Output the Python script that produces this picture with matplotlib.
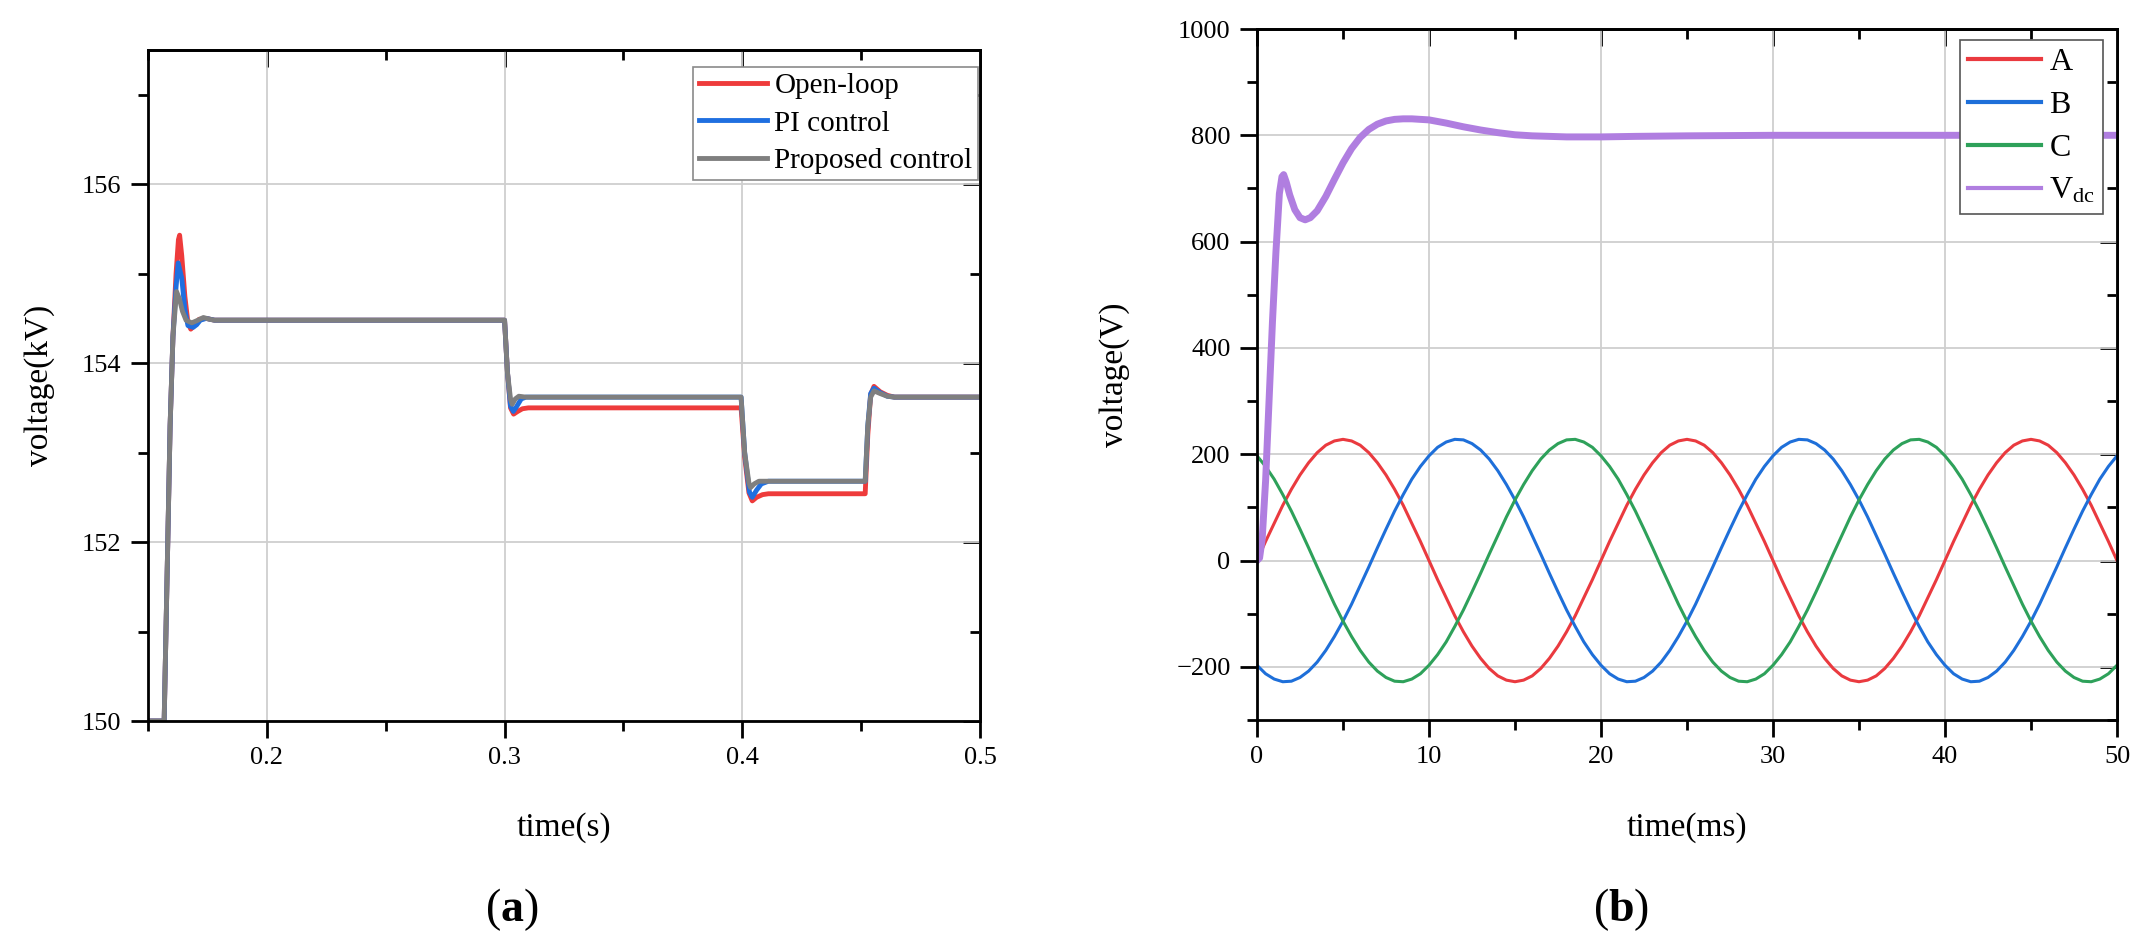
import matplotlib
matplotlib.use('Agg')
import matplotlib.pyplot as plt
from matplotlib.ticker import MultipleLocator

plt.rcParams['font.family'] = 'Liberation Serif'
plt.rcParams['mathtext.fontset'] = 'custom'
plt.rcParams['mathtext.rm'] = 'Liberation Serif'
plt.rcParams['mathtext.it'] = 'Liberation Serif:italic'
plt.rcParams['mathtext.bf'] = 'Liberation Serif:bold'

# ---- panel (a): DC voltage under three controllers ----
t_open = [0.150, 0.1568, 0.1593, 0.1605, 0.1618, 0.1628, 0.1633, 0.1642, 0.1655, 0.1668, 0.1680,
          0.1695, 0.1715, 0.1745, 0.1780, 0.3000, 0.3012, 0.3025, 0.3038, 0.3055, 0.3075, 0.3100,
          0.3995, 0.4010, 0.4028, 0.4042, 0.4060, 0.4085, 0.4110, 0.4517, 0.4528, 0.4540, 0.4554,
          0.4580, 0.4610, 0.4640, 0.5000]
v_open = [150.0, 150.0, 153.3, 154.3, 155.0, 155.38, 155.43, 155.2, 154.75, 154.45, 154.38,
          154.42, 154.49, 154.5, 154.48, 154.48, 153.9, 153.5, 153.43, 153.46, 153.49, 153.5,
          153.5, 152.95, 152.55, 152.46, 152.5, 152.53, 152.54, 152.54, 153.2, 153.65, 153.74,
          153.68, 153.64, 153.62, 153.62]

t_pi = [0.150, 0.1568, 0.1593, 0.1605, 0.1618, 0.1627, 0.1642, 0.1655, 0.1668, 0.1690,
        0.1705, 0.1720, 0.1745, 0.1780, 0.3000, 0.3012, 0.3025, 0.3037, 0.3052, 0.3070, 0.3090,
        0.3995, 0.4010, 0.4030, 0.4042, 0.4060, 0.4080, 0.4110, 0.4517, 0.4528, 0.4540, 0.4554,
        0.4580, 0.4610, 0.4640, 0.5000]
v_pi = [150.0, 150.0, 153.3, 154.3, 154.85, 155.12, 154.95, 154.6, 154.42, 154.40,
        154.43, 154.48, 154.5, 154.48, 154.48, 153.9, 153.52, 153.46, 153.52, 153.6, 153.62,
        153.62, 153.0, 152.56, 152.5, 152.58, 152.65, 152.68, 152.68, 153.3, 153.66, 153.72,
        153.67, 153.63, 153.62, 153.62]

t_prop = [0.150, 0.1568, 0.1593, 0.1605, 0.1620, 0.1632, 0.1645, 0.1660, 0.1684, 0.1710,
          0.1733, 0.1760, 0.1780, 0.3000, 0.3012, 0.3025, 0.3032, 0.3045, 0.3060, 0.3090,
          0.3995, 0.4010, 0.4028, 0.4035, 0.4050, 0.4070, 0.4110, 0.4517, 0.4528, 0.4540, 0.4554,
          0.4580, 0.4610, 0.4640, 0.5000]
v_prop = [150.0, 150.0, 153.3, 154.3, 154.8, 154.72, 154.58, 154.48, 154.45, 154.48,
          154.51, 154.49, 154.48, 154.48, 153.9, 153.6, 153.54, 153.6, 153.63, 153.62,
          153.62, 153.0, 152.66, 152.61, 152.65, 152.68, 152.68, 152.68, 153.3, 153.62, 153.69,
          153.66, 153.63, 153.62, 153.62]

labels_a = ['Open-loop', 'PI control', 'Proposed control']
colors_a = ['#ee3b3b', '#1f6fe0', '#7f7f7f']

# ---- panel (b): three-phase voltages (0.5 ms samples) and DC link ----
t_ms = [i * 0.5 for i in range(101)]
phase_a = [0, 36, 70, 104, 134, 161, 184, 203, 217, 225, 228, 225, 217, 203, 184, 161, 134, 104, 70, 36,
           0, -36, -70, -104, -134, -161, -184, -203, -217, -225, -228, -225, -217, -203, -184, -161, -134, -104, -70, -36,
           0, 36, 70, 104, 134, 161, 184, 203, 217, 225, 228, 225, 217, 203, 184, 161, 134, 104, 70, 36,
           0, -36, -70, -104, -134, -161, -184, -203, -217, -225, -228, -225, -217, -203, -184, -161, -134, -104, -70, -36,
           0, 36, 70, 104, 134, 161, 184, 203, 217, 225, 228, 225, 217, 203, 184, 161, 134, 104, 70, 36, 0]
phase_b = [-197, -213, -223, -228, -227, -220, -208, -191, -169, -143, -114, -82, -47, -12, 24, 59, 93, 124, 153, 177,
           197, 213, 223, 228, 227, 220, 208, 191, 169, 143, 114, 82, 47, 12, -24, -59, -93, -124, -153, -177,
           -197, -213, -223, -228, -227, -220, -208, -191, -169, -143, -114, -82, -47, -12, 24, 59, 93, 124, 153, 177,
           197, 213, 223, 228, 227, 220, 208, 191, 169, 143, 114, 82, 47, 12, -24, -59, -93, -124, -153, -177,
           -197, -213, -223, -228, -227, -220, -208, -191, -169, -143, -114, -82, -47, -12, 24, 59, 93, 124, 153, 177, 197]
phase_c = [197, 177, 153, 124, 93, 59, 24, -12, -47, -82, -114, -143, -169, -191, -208, -220, -227, -228, -223, -213,
           -197, -177, -153, -124, -93, -59, -24, 12, 47, 82, 114, 143, 169, 191, 208, 220, 227, 228, 223, 213,
           197, 177, 153, 124, 93, 59, 24, -12, -47, -82, -114, -143, -169, -191, -208, -220, -227, -228, -223, -213,
           -197, -177, -153, -124, -93, -59, -24, 12, 47, 82, 114, 143, 169, 191, 208, 220, 227, 228, 223, 213,
           197, 177, 153, 124, 93, 59, 24, -12, -47, -82, -114, -143, -169, -191, -208, -220, -227, -228, -223, -213, -197]

t_dc = [0, 0.15, 0.3, 0.5, 0.7, 0.9, 1.1, 1.3, 1.45, 1.55, 1.7, 1.9, 2.2, 2.5, 2.8, 3.1, 3.5, 4.0,
        4.5, 5.0, 5.5, 6.0, 6.5, 7.0, 7.5, 8.0, 8.5, 9.0, 9.5, 10, 11, 12, 13, 14, 15, 16, 17, 18,
        20, 22, 25, 30, 35, 40, 45, 50]
v_dc = [0, 5, 40, 150, 300, 450, 580, 690, 722, 726, 712, 688, 660, 645, 641, 645, 658, 685,
        717, 748, 775, 796, 811, 821, 827, 830, 831, 831, 830, 829, 823, 816, 810, 805, 801, 799, 798, 797,
        797, 798, 799, 800, 800, 800, 800, 800]

labels_b = ['A', 'B', 'C', r'V$_{\mathrm{dc}}$']
colors_b = ['#ea3a3f', '#1e6fd9', '#2ea15a', '#b07ee0']

fig = plt.figure(figsize=(21.45, 9.47), dpi=100)
ax1 = fig.add_axes([148 / 2145, 1 - 721 / 947, 832 / 2145, 671 / 947])
ax2 = fig.add_axes([1257 / 2145, 1 - 720 / 947, 860 / 2145, 691 / 947])


def style_axes(ax, xmajor, xminor, ymajor, yminor):
    ax.xaxis.set_major_locator(MultipleLocator(xmajor))
    ax.xaxis.set_minor_locator(MultipleLocator(xminor))
    ax.yaxis.set_major_locator(MultipleLocator(ymajor))
    ax.yaxis.set_minor_locator(MultipleLocator(yminor))
    ax.tick_params(which='major', direction='out', length=12, width=2, labelsize=19, pad=7)
    ax.tick_params(which='minor', direction='out', length=7, width=2)
    ax.grid(True, which='major', color='#cfcfcf', linewidth=1.3)
    ax.set_axisbelow(True)
    for sp in ax.spines.values():
        sp.set_linewidth(2)
    # mirrored ticks pointing inward on top and right
    top = ax.secondary_xaxis('top')
    top.xaxis.set_major_locator(MultipleLocator(xmajor))
    top.xaxis.set_minor_locator(MultipleLocator(xminor))
    top.tick_params(which='major', direction='in', length=12, width=2, labeltop=False)
    top.tick_params(which='minor', direction='in', length=7, width=2)
    right = ax.secondary_yaxis('right')
    right.yaxis.set_major_locator(MultipleLocator(ymajor))
    right.yaxis.set_minor_locator(MultipleLocator(yminor))
    right.tick_params(which='major', direction='in', length=12, width=2, labelright=False)
    right.tick_params(which='minor', direction='in', length=7, width=2)
    top.spines['top'].set_linewidth(2)
    right.spines['right'].set_linewidth(2)


# panel (a)
for t, v, c, lab in zip([t_open, t_pi, t_prop], [v_open, v_pi, v_prop], colors_a, labels_a):
    ax1.plot(t, v, color=c, linewidth=3.5, label=lab)
ax1.set_xlim(0.15, 0.5)
ax1.set_ylim(150, 157.5)
style_axes(ax1, 0.1, 0.05, 2, 1)
ax1.set_xlabel('time(s)', fontsize=24)
ax1.set_ylabel('voltage(kV)', fontsize=24)
ax1.xaxis.set_label_coords(0.5, -0.136)
ax1.yaxis.set_label_coords(-0.112, 0.5)
leg1 = ax1.legend(loc='upper right', bbox_to_anchor=(0.998, 0.975), fontsize=21,
                  frameon=True, fancybox=False, edgecolor='#8a8a8a', framealpha=1,
                  handlelength=2.35, handletextpad=0.25, labelspacing=0.38,
                  borderpad=0.2, borderaxespad=0)
leg1.get_frame().set_linewidth(1.2)

# panel (b)
ax2.plot(t_ms, phase_a, color=colors_b[0], linewidth=2.2, label=labels_b[0])
ax2.plot(t_ms, phase_b, color=colors_b[1], linewidth=2.2, label=labels_b[1])
ax2.plot(t_ms, phase_c, color=colors_b[2], linewidth=2.2, label=labels_b[2])
ax2.plot(t_dc, v_dc, color=colors_b[3], linewidth=5, label=labels_b[3])
ax2.set_xlim(0, 50)
ax2.set_ylim(-300, 1000)
style_axes(ax2, 10, 5, 200, 100)
ax2.set_xlabel('time(ms)', fontsize=24)
ax2.set_ylabel('voltage(V)', fontsize=24)
ax2.xaxis.set_label_coords(0.5, -0.133)
ax2.yaxis.set_label_coords(-0.148, 0.5)
leg2 = ax2.legend(loc='upper right', bbox_to_anchor=(0.984, 0.984), fontsize=23,
                  frameon=True, fancybox=False, edgecolor='#555555', framealpha=1,
                  handlelength=2.3, handletextpad=0.25, labelspacing=0.42,
                  borderpad=0.25, borderaxespad=0)
leg2.get_frame().set_linewidth(1.2)
for line in leg2.get_lines():
    line.set_linewidth(3)

fig.text(512 / 2145, 1 - 910 / 947, '(' + r'$\mathbf{a}$' + ')', fontsize=33, ha='center', va='center')
fig.text(1621 / 2145, 1 - 910 / 947, '(' + r'$\mathbf{b}$' + ')', fontsize=33, ha='center', va='center')

fig.savefig('out.png', dpi=100)
